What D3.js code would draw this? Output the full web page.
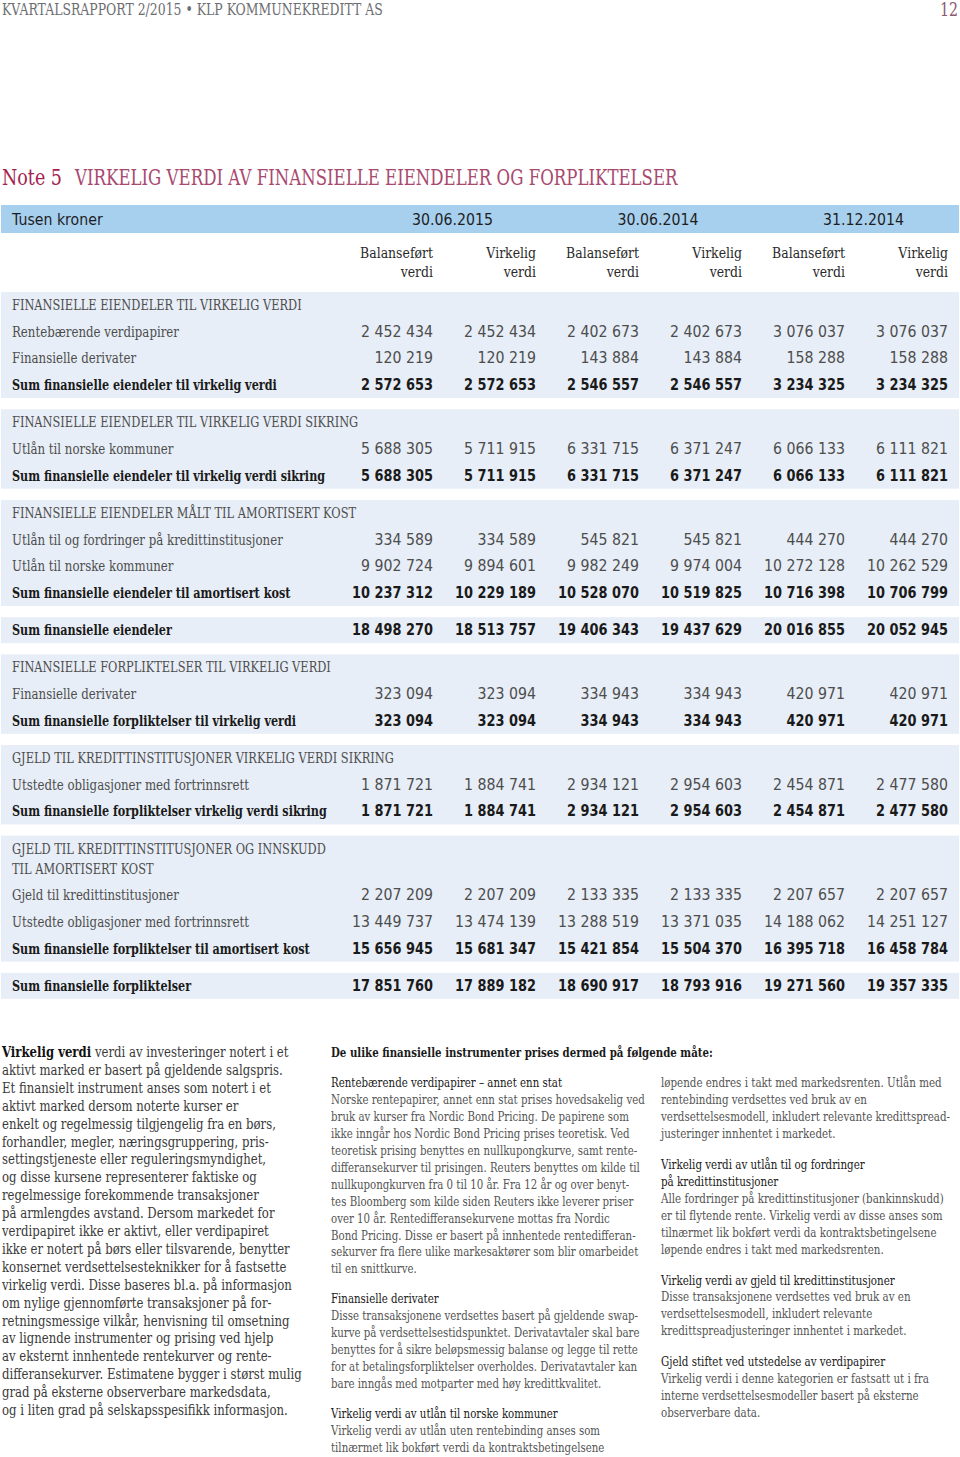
<!DOCTYPE html>
<html><head><meta charset="utf-8">
<script src="https://cdn.jsdelivr.net/npm/d3@7"></script>
<style>
body{margin:0;background:#fff}
svg{display:block}
text{font-family:'DejaVu Serif';}
.hdr{font-size:17px;fill:#6d6e71}
.pg{font-size:18px;fill:#8a5a72}
.note{font-size:22px;fill:#a3234f}
.ttl{font-size:22px;fill:#a8496f}
.th{font-size:15px;fill:#1e1e1e;font-family:'DejaVu Sans'}
.colh{font-size:14.5px;fill:#2a2a2a}
.sec{font-size:14px;fill:#4d4d4d}
.lab{font-size:14px;fill:#4d4d4d}
.sumlab{font-size:14px;fill:#1a1a1a;font-weight:bold}
.num{font-size:15px;fill:#4d4d4d;font-family:'DejaVu Sans'}
.sumnum{font-size:15px;fill:#1a1a1a;font-family:'DejaVu Sans';font-weight:bold}
.lft{font-size:14px;fill:#3a3a3a}
.mid{font-size:13px;fill:#555}
.midh{font-size:13px;fill:#1a1a1a}
.midb{font-size:13px;fill:#1a1a1a;font-weight:bold}
</style>
</head><body>
<svg id="c" width="960" height="1457"></svg>
<script>
// ---------- DATA ----------
const pageHeader = "KVARTALSRAPPORT 2/2015 \u2022 KLP KOMMUNEKREDITT AS";
const pageNumber = "12";
const noteLabel = "Note 5";
const noteTitle = "VIRKELIG VERDI AV FINANSIELLE EIENDELER OG FORPLIKTELSER";
const unitLabel = "Tusen kroner";
const periods = ["30.06.2015", "30.06.2014", "31.12.2014"];
const colHead1 = ["Balanseført", "Virkelig", "Balanseført", "Virkelig", "Balanseført", "Virkelig"];
const colHead2 = ["verdi", "verdi", "verdi", "verdi", "verdi", "verdi"];

const rowLabels = [
  "FINANSIELLE EIENDELER TIL VIRKELIG VERDI",
  "Rentebærende verdipapirer",
  "Finansielle derivater",
  "Sum finansielle eiendeler til virkelig verdi",
  "FINANSIELLE EIENDELER TIL VIRKELIG VERDI SIKRING",
  "Utlån til norske kommuner",
  "Sum finansielle eiendeler til virkelig verdi sikring",
  "FINANSIELLE EIENDELER MÅLT TIL AMORTISERT KOST",
  "Utlån til og fordringer på kredittinstitusjoner",
  "Utlån til norske kommuner",
  "Sum finansielle eiendeler til amortisert kost",
  "Sum finansielle eiendeler",
  "FINANSIELLE FORPLIKTELSER TIL VIRKELIG VERDI",
  "Finansielle derivater",
  "Sum finansielle forpliktelser til virkelig verdi",
  "GJELD TIL KREDITTINSTITUSJONER VIRKELIG VERDI SIKRING",
  "Utstedte obligasjoner med fortrinnsrett",
  "Sum finansielle forpliktelser virkelig verdi sikring",
  "GJELD TIL KREDITTINSTITUSJONER OG INNSKUDD",
  "TIL AMORTISERT KOST",
  "Gjeld til kredittinstitusjoner",
  "Utstedte obligasjoner med fortrinnsrett",
  "Sum finansielle forpliktelser til amortisert kost",
  "Sum finansielle forpliktelser"
];
const rowKinds = ["sec","row","row","sum","sec","row","sum","sec","row","row","sum","sum",
                  "sec","row","sum","sec","row","sum","sec","sec2","row","row","sum","sum"];
const rowBands = [1,1,1,1,2,2,2,3,3,3,3,4,5,5,5,6,6,6,7,7,7,7,7,8];

const bal2015  = [null,2452434,120219,2572653,null,5688305,5688305,null,334589,9902724,10237312,18498270,null,323094,323094,null,1871721,1871721,null,null,2207209,13449737,15656945,17851760];
const vir2015  = [null,2452434,120219,2572653,null,5711915,5711915,null,334589,9894601,10229189,18513757,null,323094,323094,null,1884741,1884741,null,null,2207209,13474139,15681347,17889182];
const bal2014h = [null,2402673,143884,2546557,null,6331715,6331715,null,545821,9982249,10528070,19406343,null,334943,334943,null,2934121,2934121,null,null,2133335,13288519,15421854,18690917];
const vir2014h = [null,2402673,143884,2546557,null,6371247,6371247,null,545821,9974004,10519825,19437629,null,334943,334943,null,2954603,2954603,null,null,2133335,13371035,15504370,18793916];
const bal2014  = [null,3076037,158288,3234325,null,6066133,6066133,null,444270,10272128,10716398,20016855,null,420971,420971,null,2454871,2454871,null,null,2207657,14188062,16395718,19271560];
const vir2014  = [null,3076037,158288,3234325,null,6111821,6111821,null,444270,10262529,10706799,20052945,null,420971,420971,null,2477580,2477580,null,null,2207657,14251127,16458784,19357335];
const series = [bal2015, vir2015, bal2014h, vir2014h, bal2014, vir2014];

const leftText = [
  ["Virkelig verdi", " verdi av investeringer notert i et"],
  "aktivt marked er basert på gjeldende salgspris.",
  "Et finansielt instrument anses som notert i et",
  "aktivt marked dersom noterte kurser er",
  "enkelt og regelmessig tilgjengelig fra en børs,",
  "forhandler, megler, næringsgruppering, pris-",
  "settingstjeneste eller reguleringsmyndighet,",
  "og disse kursene representerer faktiske og",
  "regelmessige forekommende transaksjoner",
  "på armlengdes avstand. Dersom markedet for",
  "verdipapiret ikke er aktivt, eller verdipapiret",
  "ikke er notert på børs eller tilsvarende, benytter",
  "konsernet verdsettelsesteknikker for å fastsette",
  "virkelig verdi. Disse baseres bl.a. på informasjon",
  "om nylige gjennomførte transaksjoner på for-",
  "retningsmessige vilkår, henvisning til omsetning",
  "av lignende instrumenter og prising ved hjelp",
  "av eksternt innhentede rentekurver og rente-",
  "differansekurver. Estimatene bygger i størst mulig",
  "grad på eksterne observerbare markedsdata,",
  "og i liten grad på selskapsspesifikk informasjon."
];
const midText = [
  {k:"b", t:"De ulike finansielle instrumenter prises dermed på følgende måte:"},
  {k:"gap"},
  {k:"h", t:"Rentebærende verdipapirer – annet enn stat"},
  {k:"p", t:"Norske rentepapirer, annet enn stat prises hovedsakelig ved"},
  {k:"p", t:"bruk av kurser fra Nordic Bond Pricing. De papirene som"},
  {k:"p", t:"ikke inngår hos Nordic Bond Pricing prises teoretisk. Ved"},
  {k:"p", t:"teoretisk prising benyttes en nullkupongkurve, samt rente-"},
  {k:"p", t:"differansekurver til prisingen. Reuters benyttes om kilde til"},
  {k:"p", t:"nullkupongkurven fra 0 til 10 år. Fra 12 år og over benyt-"},
  {k:"p", t:"tes Bloomberg som kilde siden Reuters ikke leverer priser"},
  {k:"p", t:"over 10 år.  Rentedifferansekurvene mottas fra Nordic"},
  {k:"p", t:"Bond Pricing. Disse er basert på innhentede rentedifferan-"},
  {k:"p", t:"sekurver fra flere ulike markesaktører som blir omarbeidet"},
  {k:"p", t:"til  en snittkurve."},
  {k:"gap"},
  {k:"h", t:"Finansielle derivater"},
  {k:"p", t:"Disse transaksjonene verdsettes basert på gjeldende swap-"},
  {k:"p", t:"kurve på verdsettelsestidspunktet. Derivatavtaler skal bare"},
  {k:"p", t:"benyttes for å sikre beløpsmessig balanse og legge til rette"},
  {k:"p", t:"for at betalingsforpliktelser overholdes. Derivatavtaler kan"},
  {k:"p", t:"bare inngås med motparter med høy kredittkvalitet."},
  {k:"gap"},
  {k:"h", t:"Virkelig verdi av utlån til norske kommuner"},
  {k:"p", t:"Virkelig verdi av utlån uten rentebinding anses som"},
  {k:"p", t:"tilnærmet lik bokført verdi da kontraktsbetingelsene"}
];
const rightText = [
  {k:"p", t:"løpende endres i takt med markedsrenten. Utlån med"},
  {k:"p", t:"rentebinding verdsettes ved bruk av en"},
  {k:"p", t:"verdsettelsesmodell, inkludert relevante kredittspread-"},
  {k:"p", t:"justeringer innhentet i markedet."},
  {k:"gap"},
  {k:"h", t:"Virkelig verdi av utlån til og fordringer"},
  {k:"h", t:"på kredittinstitusjoner"},
  {k:"p", t:"Alle fordringer på kredittinstitusjoner (bankinnskudd)"},
  {k:"p", t:"er til flytende rente. Virkelig verdi av disse anses som"},
  {k:"p", t:"tilnærmet lik bokført verdi da kontraktsbetingelsene"},
  {k:"p", t:"løpende endres i takt med markedsrenten."},
  {k:"gap"},
  {k:"h", t:"Virkelig verdi av gjeld til kredittinstitusjoner"},
  {k:"p", t:"Disse transaksjonene verdsettes ved bruk av en"},
  {k:"p", t:"verdsettelsesmodell, inkludert relevante"},
  {k:"p", t:"kredittspreadjusteringer innhentet i markedet."},
  {k:"gap"},
  {k:"h", t:"Gjeld stiftet ved utstedelse av verdipapirer"},
  {k:"p", t:"Virkelig verdi i denne kategorien er fastsatt ut i fra"},
  {k:"p", t:"interne verdsettelsesmodeller basert på eksterne"},
  {k:"p", t:"observerbare data."}
];

// ---------- DRAW ----------
const svg = d3.select("#c");
const fmt = d3.formatLocale({decimal:",", thousands:" ", grouping:[3], currency:["",""]}).format(",d");

function measureK(cls, sample, targetW){
  const tmp = svg.append("text").attr("class", cls).text(sample);
  const k = targetW / tmp.node().getComputedTextLength();
  tmp.remove();
  return k;
}
// condense horizontally with a transform so a sample string measures targetW
function condense(sel, k){
  sel.each(function(){
    const t = d3.select(this);
    const x = +t.attr("x"), y = +t.attr("y");
    t.attr("x", 0).attr("y", 0).attr("transform", `translate(${x},${y}) scale(${k},1)`);
  });
}
function fit(sel, cls, sample, targetW){ condense(sel, measureK(cls, sample, targetW)); }

// page header
const h1 = svg.append("text").attr("class","hdr").attr("x",2).attr("y",15).text(pageHeader);
fit(h1, "hdr", pageHeader, 381);
const pg = svg.append("text").attr("class","pg").attr("x",958).attr("y",16).attr("text-anchor","end").text(pageNumber);
fit(pg, "pg", pageNumber, 18);

// title
const n1 = svg.append("text").attr("class","note").attr("x",2).attr("y",185).text(noteLabel);
fit(n1, "note", noteLabel, 60);
const t1 = svg.append("text").attr("class","ttl").attr("x",75).attr("y",185).text(noteTitle);
fit(t1, "ttl", noteTitle, 603);

// header band
svg.append("rect").attr("x",1).attr("y",205).attr("width",958).attr("height",28).attr("fill","#a7cfee");
const th = svg.append("g");
th.append("text").attr("class","th").attr("x",12).attr("y",225).text(unitLabel);
const pX = d3.scalePoint().domain(periods).range([493, 904]);
th.selectAll("text.per").data(periods).join("text").attr("class","th per")
  .attr("x", d => pX(d)).attr("y",225).attr("text-anchor","end").text(d => d);
fit(th.selectAll("text"), "th", "30.06.2015", 81);

// column scale
const colX = d3.scaleLinear().domain([0,5]).range([433, 948]);
const ch = svg.append("g");
ch.selectAll("text.c1").data(colHead1).join("text").attr("class","colh c1")
  .attr("x",(d,i)=>colX(i)).attr("y",258).attr("text-anchor","end").text(d=>d);
ch.selectAll("text.c2").data(colHead2).join("text").attr("class","colh c2")
  .attr("x",(d,i)=>colX(i)).attr("y",277).attr("text-anchor","end").text(d=>d);
fit(ch.selectAll("text"), "colh", "Balanseført", 73);

// row positions
const rowY = [];
{
  let y = 305;
  rowLabels.forEach((d,i) => {
    if (i > 0) {
      if (rowBands[i] !== rowBands[i-1]) y += 37.2;
      else if (rowKinds[i] === "sec2") y += 20;
      else y += 26.7;
    }
    rowY.push(y);
  });
}
// bands
const bands = d3.groups(rowLabels.map((d,i)=>i), i => rowBands[i]);
svg.append("g").selectAll("rect").data(bands).join("rect")
  .attr("x",1).attr("width",958)
  .attr("y", d => rowY[d[1][0]] - 13)
  .attr("height", d => rowY[d[1][d[1].length-1]] - rowY[d[1][0]] + 26)
  .attr("fill","#e7eef7");

// labels
const labG = svg.append("g");
const labs = labG.selectAll("text").data(rowLabels).join("text")
  .attr("class",(d,i)=> rowKinds[i]==="sum" ? "sumlab" : (rowKinds[i]==="row" ? "lab" : "sec"))
  .attr("x",12).attr("y",(d,i)=>rowY[i]+5).text(d=>d);
fit(labs.filter((d,i)=>rowKinds[i]==="row"), "lab", "Rentebærende verdipapirer", 167);
fit(labs.filter((d,i)=>rowKinds[i]==="sum"), "sumlab", "Sum finansielle eiendeler til virkelig verdi", 265);
fit(labs.filter((d,i)=>rowKinds[i]==="sec"||rowKinds[i]==="sec2"), "sec", "FINANSIELLE EIENDELER TIL VIRKELIG VERDI", 290);

// numbers
const numG = svg.append("g");
series.forEach((vals, c) => {
  const cells = vals.map((v,i)=>({v,i})).filter(d=>d.v!==null);
  numG.selectAll("text.s"+c).data(cells).join("text")
    .attr("class", d => (rowKinds[d.i]==="sum" ? "sumnum" : "num") + " s"+c)
    .attr("x", colX(c)).attr("y", d => rowY[d.i]+5).attr("text-anchor","end")
    .text(d => fmt(d.v));
});
fit(numG.selectAll("text.num"), "num", "2 452 434", 72);
fit(numG.selectAll("text.sumnum"), "sumnum", "2 572 653", 72);

// bottom text: left column
const lh = 17.9;
const lg = svg.append("g");
const lt = lg.selectAll("text").data(leftText).join("text").attr("class","lft")
  .attr("x",2).attr("y",(d,i)=>1057 + i*lh);
lt.each(function(d){
  const s = d3.select(this);
  if (Array.isArray(d)) {
    s.append("tspan").attr("font-weight","bold").attr("fill","#111").text(d[0]);
    s.append("tspan").text(d[1]);
  } else s.text(d);
});
fit(lt, "lft", "aktivt marked er basert på gjeldende salgspris.", 281);

// middle & right columns
function column(items, x, y0, step, gap, sample, target){
  let y = y0;
  const pos = [];
  items.forEach((d,i)=>{
    if (i>0) y += (d.k==="gap") ? 0 : step;
    if (d.k==="gap") { y += gap; return; }
    pos.push({...d, y});
  });
  const g = svg.append("g");
  const tx = g.selectAll("text").data(pos).join("text")
    .attr("class", d => d.k==="b" ? "midb" : (d.k==="h" ? "midh" : "mid"))
    .attr("x", x).attr("y", d => d.y).text(d => d.t);
  condense(tx, measureK("mid", sample, target));
}
column(midText, 331, 1057, 16.95, 13, "Norske rentepapirer, annet enn stat prises hovedsakelig ved", 314);
column(rightText, 661, 1087, 16.95, 14, "Alle fordringer på kredittinstitusjoner (bankinnskudd)", 283);
</script>
</body></html>
